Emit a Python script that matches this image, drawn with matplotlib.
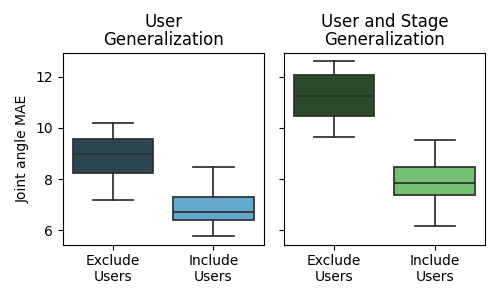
import matplotlib
matplotlib.use("Agg")
import matplotlib.pyplot as plt

categories = ["Exclude\nUsers", "Include\nUsers"]
titles = ["User\nGeneralization", "User and Stage\nGeneralization"]

# box stats: low whisker, q1, median, q3, high whisker
user_low = [7.18, 5.77]
user_q1 = [8.23, 6.39]
user_med = [8.98, 6.70]
user_q3 = [9.57, 7.30]
user_high = [10.20, 8.47]

stage_low = [9.65, 6.17]
stage_q1 = [10.45, 7.37]
stage_med = [11.26, 7.84]
stage_q3 = [12.05, 8.47]
stage_high = [12.60, 9.54]

user_colors = ["#2b4552", "#63a9cd"]
stage_colors = ["#2c4a2c", "#74c174"]


def make_stats(low, q1, med, q3, high):
    stats = []
    for lo, a, m, b, hi in zip(low, q1, med, q3, high):
        stats.append({"whislo": lo, "q1": a, "med": m, "q3": b, "whishi": hi, "fliers": []})
    return stats


fig, axes = plt.subplots(1, 2, figsize=(5, 3), dpi=100, sharey=True)
fig.subplots_adjust(left=0.125, right=0.97, top=0.822, bottom=0.185, wspace=0.1)

panels = [
    (make_stats(user_low, user_q1, user_med, user_q3, user_high), user_colors),
    (make_stats(stage_low, stage_q1, stage_med, stage_q3, stage_high), stage_colors),
]

line_color = "#2e2e2e"
for ax, (stats, cols), title in zip(axes, panels, titles):
    bp = ax.bxp(
        stats,
        positions=[0, 1],
        widths=0.8,
        patch_artist=True,
        showfliers=False,
        boxprops={"edgecolor": line_color, "linewidth": 1.25},
        medianprops={"color": line_color, "linewidth": 1.25},
        whiskerprops={"color": line_color, "linewidth": 1.25},
        capprops={"color": line_color, "linewidth": 1.25},
        capwidths=0.4,
    )
    for patch, c in zip(bp["boxes"], cols):
        patch.set_facecolor(c)
    ax.set_xlim(-0.5, 1.5)
    ax.set_xticks([0, 1])
    ax.set_xticklabels(categories, fontsize=10)
    ax.set_title(title, fontsize=12, linespacing=1.0)

axes[0].set_ylim(5.44, 12.91)
axes[0].set_yticks([6, 8, 10, 12])
axes[0].set_ylabel("Joint angle MAE")

fig.savefig("out.png", dpi=100)
